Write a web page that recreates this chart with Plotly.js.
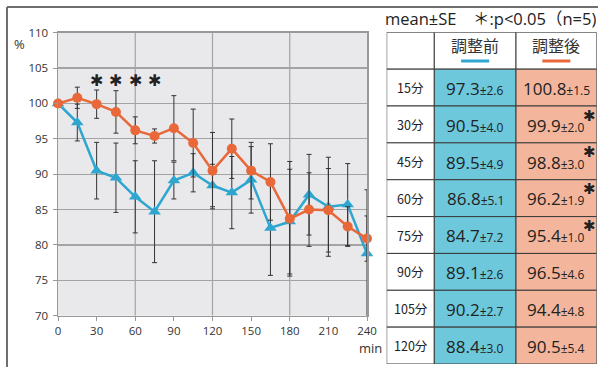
<!DOCTYPE html>
<html>
<head>
<meta charset="utf-8">
<script src="https://cdn.plot.ly/plotly-3.0.1.min.js"></script>
<style>html,body{margin:0;padding:0;background:#fff;}#chart{width:598px;height:367px;}</style>
</head>
<body>
<div id="chart"></div>
<script>
// ---- data ----
const times = [0, 15, 30, 45, 60, 75, 90, 105, 120, 135, 150, 165, 180, 195, 210, 225, 240];
const before = [100, 97.3, 90.5, 89.5, 86.8, 84.7, 89.1, 90.2, 88.4, 87.4, 89.2, 82.4, 83.3, 87.1, 85.4, 85.7, 78.8];
const beforeSE = [null, 2.6, 4.0, 4.9, 5.1, 7.2, 2.6, 2.7, 3.0, 5.1, 4.7, 6.7, 7.4, 5.7, 7.0, 5.8, 9.0];
const after = [100, 100.8, 99.9, 98.8, 96.2, 95.4, 96.5, 94.4, 90.5, 93.6, 90.5, 88.9, 83.7, 85.0, 84.9, 82.6, 80.9];
const afterSE = [null, 1.5, 2.0, 3.0, 1.9, 1.0, 4.6, 4.8, 5.4, 4.2, 4.0, 5.4, 8.1, 5.2, 5.9, 2.8, 3.2];
const sigTimes = [30, 45, 60, 75];
const xTickVals = [0, 30, 60, 90, 120, 150, 180, 210, 240];
const xGridVals = [60, 120, 180];
const yTickVals = [70, 75, 80, 85, 90, 95, 100, 105, 110];

const tableRows = ['15分', '30分', '45分', '60分', '75分', '90分', '105分', '120分'];
const tableTimes = [15, 30, 45, 60, 75, 90, 105, 120];
const headerBefore = '調整前';
const headerAfter = '調整後';
const noteText = 'mean±SE　＊:p<0.05（n=5)';

// ---- styles ----
const W = 598, H = 367;
const px = v => v / W, py = v => 1 - v / H;
const blue = '#2ea6cf', orange = '#e8683a';
const cellBlue = '#6cc8da', cellOrange = '#f3b69c';
const colEdges = [0, 47.6, 129.3, 210];
const nRows = tableRows.length + 1;
const fontNum = 'Open Sans, Noto Sans CJK JP, sans-serif';

const traces = [
  {
    x: times, y: before, type: 'scatter', mode: 'lines+markers', cliponaxis: false,
    line: {color: blue, width: 2.5},
    marker: {symbol: 'triangle-up', size: 11, color: blue},
    error_y: {type: 'data', array: beforeSE, visible: true, color: '#333', thickness: 1, width: 2.5},
    xaxis: 'x', yaxis: 'y', hoverinfo: 'skip'
  },
  {
    x: times, y: after, type: 'scatter', mode: 'lines+markers', cliponaxis: false,
    line: {color: orange, width: 2.5},
    marker: {symbol: 'circle', size: 10, color: orange},
    error_y: {type: 'data', array: afterSE, visible: true, color: '#333', thickness: 1, width: 2.5},
    xaxis: 'x', yaxis: 'y', hoverinfo: 'skip'
  }
];

const shapes = [];
const annotations = [];
const ann = (o) => annotations.push(Object.assign({showarrow: false, xanchor: 'center', yanchor: 'middle'}, o));

// vertical gridlines every 60
xGridVals.forEach(g => shapes.push({type: 'line', xref: 'x', yref: 'y', x0: g, x1: g, y0: 70, y1: 110,
  line: {color: '#a3a3a3', width: 1.2}, layer: 'below'}));

// significance asterisks
sigTimes.forEach(t => ann({xref: 'x', yref: 'y', x: t, y: 103.2, text: '✱',
  font: {family: 'DejaVu Sans', size: 16, color: '#222'}}));

// axis unit labels
ann({xref: 'paper', yref: 'paper', x: px(19), y: py(44), text: '%',
  font: {family: fontNum, size: 13, color: '#333'}});
ann({xref: 'paper', yref: 'paper', x: px(370.5), y: py(348), text: 'min',
  font: {family: fontNum, size: 13, color: '#333'}});

// outer frame (top + left)
shapes.push({type: 'line', xref: 'paper', yref: 'paper', x0: px(7), x1: 1, y0: py(7), y1: py(7), line: {color: '#6f6f6f', width: 2}});
shapes.push({type: 'line', xref: 'paper', yref: 'paper', x0: px(7), x1: px(7), y0: py(7), y1: 0, line: {color: '#6f6f6f', width: 2}});

// note text above table
ann({xref: 'paper', yref: 'paper', x: px(490.5), y: py(19), text: noteText,
  font: {family: fontNum, size: 16.5, color: '#222'}});

// table cells
for (let r = 0; r < nRows; r++) {
  for (let c = 0; c < 3; c++) {
    let fill = '#ffffff';
    if (r > 0 && c === 1) fill = cellBlue;
    if (r > 0 && c === 2) fill = cellOrange;
    shapes.push({type: 'rect', xref: 'x2', yref: 'y2', x0: colEdges[c], x1: colEdges[c + 1], y0: r, y1: r + 1,
      fillcolor: fill, line: {color: '#3a3a3a', width: 1}});
  }
}
const colCenter = c => (colEdges[c] + colEdges[c + 1]) / 2;

// headers
ann({xref: 'x2', yref: 'y2', x: colCenter(1), y: 0.35, text: headerBefore,
  font: {family: 'Noto Sans CJK JP', size: 16, color: '#333'}});
ann({xref: 'x2', yref: 'y2', x: colCenter(2), y: 0.35, text: headerAfter,
  font: {family: 'Noto Sans CJK JP', size: 16, color: '#333'}});
[[1, blue], [2, orange]].forEach(([c, col]) => shapes.push({type: 'line', xref: 'x2', yref: 'y2',
  x0: colCenter(c) - 14, x1: colCenter(c) + 14, y0: 0.78, y1: 0.78, line: {color: col, width: 3}}));
traces.push({x: [colCenter(1), colCenter(2)], y: [0.78, 0.78], type: 'scatter', mode: 'markers',
  marker: {symbol: ['triangle-up', 'circle'], size: [8, 8], color: [blue, orange]},
  xaxis: 'x2', yaxis: 'y2', hoverinfo: 'skip', cliponaxis: false});

// rows
tableRows.forEach((lab, i) => {
  const r = i + 1;
  const idx = times.indexOf(tableTimes[i]);
  ann({xref: 'x2', yref: 'y2', x: colCenter(0), y: r + 0.5, text: lab,
    font: {family: 'Noto Sans CJK JP', size: 12.5, color: '#222'}});
  ann({xref: 'x2', yref: 'y2', x: colCenter(1), y: r + 0.52,
    text: before[idx].toFixed(1) + '<span style="font-size:12px">±' + beforeSE[idx].toFixed(1) + '</span>',
    font: {family: fontNum, size: 17, color: '#222'}});
  ann({xref: 'x2', yref: 'y2', x: colCenter(2), y: r + 0.52,
    text: after[idx].toFixed(1) + '<span style="font-size:12px">±' + afterSE[idx].toFixed(1) + '</span>',
    font: {family: fontNum, size: 17, color: '#222'}});
  if (sigTimes.includes(tableTimes[i])) {
    ann({xref: 'x2', yref: 'y2', x: 202.5, y: r + 0.26, text: '✱',
      font: {family: 'DejaVu Sans', size: 15, color: '#222'}});
  }
});

const layout = {
  width: W, height: H,
  margin: {l: 0, r: 0, t: 0, b: 0},
  paper_bgcolor: '#ffffff',
  plot_bgcolor: '#e9e9ec',
  showlegend: false,
  xaxis: {
    domain: [px(58), px(367)], range: [0, 240], tickvals: xTickVals, ticktext: xTickVals.map(String),
    showgrid: false, zeroline: false, showline: true, mirror: true, linecolor: '#999', linewidth: 1.5,
    ticks: 'outside', ticklen: 4, tickcolor: '#999', ticklabelstandoff: 0,
    tickfont: {family: fontNum, size: 11.5, color: '#333'}, fixedrange: true
  },
  yaxis: {
    domain: [py(315.7), py(32.7)], range: [70, 110], tickvals: yTickVals, ticktext: yTickVals.map(String),
    showgrid: true, gridcolor: '#a3a3a3', gridwidth: 1.2, zeroline: false, showline: true, mirror: true,
    linecolor: '#999', linewidth: 1.5, ticks: 'outside', ticklen: 4, tickcolor: '#999', ticklabelstandoff: 2,
    tickfont: {family: fontNum, size: 11.5, color: '#333'}, fixedrange: true
  },
  xaxis2: {domain: [px(386.7), px(596.7)], range: [0, 210], visible: false, anchor: 'y2', fixedrange: true},
  yaxis2: {domain: [py(364), py(32.3)], range: [nRows, 0], visible: false, anchor: 'x2', fixedrange: true},
  shapes: shapes,
  annotations: annotations
};

Plotly.newPlot('chart', traces, layout, {staticPlot: true, displayModeBar: false});
</script>
</body>
</html>
